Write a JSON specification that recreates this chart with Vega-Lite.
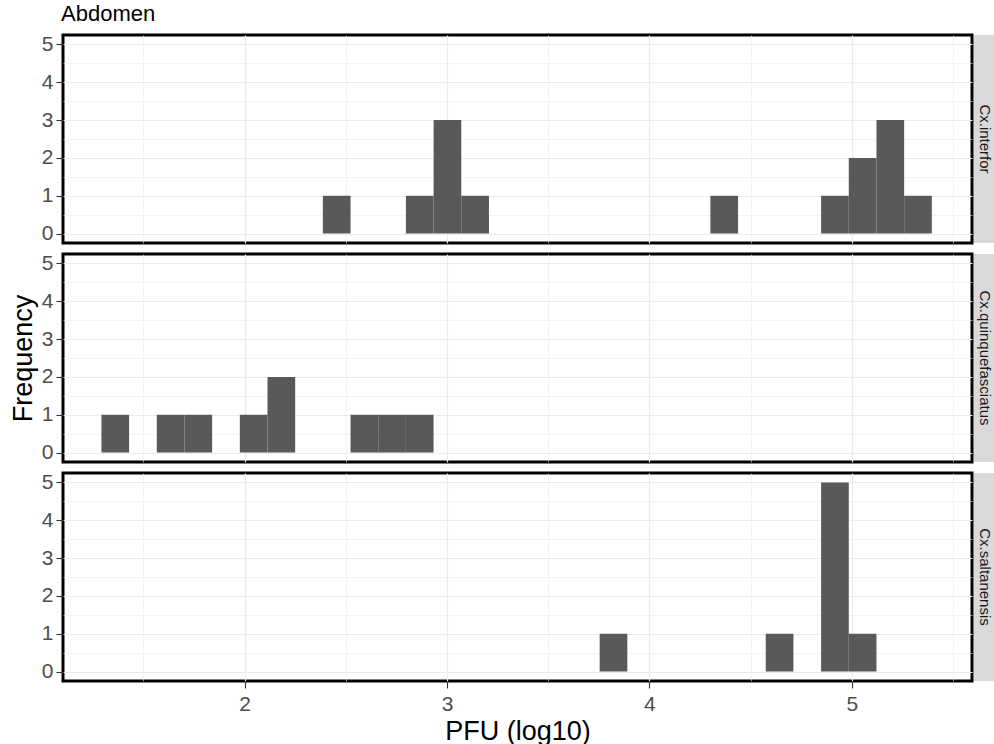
{
  "$schema": "https://vega.github.io/schema/vega-lite/v6.json",
  "padding": {"left": 7, "top": 2, "right": 0, "bottom": 0},
  "background": "white",
  "title": {"text": "Abdomen", "anchor": "start", "frame": "group", "fontSize": 22, "fontWeight": "normal", "color": "#000000", "font": "Liberation Sans", "offset": 6, "dx": -2},
  "datasets": {
    "bins": [
      {"species": "Cx.interfor", "bin_start": 2.3866, "bin_end": 2.5234, "count": 1},
      {"species": "Cx.interfor", "bin_start": 2.7969, "bin_end": 2.9337, "count": 1},
      {"species": "Cx.interfor", "bin_start": 2.9337, "bin_end": 3.0705, "count": 3},
      {"species": "Cx.interfor", "bin_start": 3.0705, "bin_end": 3.2073, "count": 1},
      {"species": "Cx.interfor", "bin_start": 4.3015, "bin_end": 4.4383, "count": 1},
      {"species": "Cx.interfor", "bin_start": 4.8486, "bin_end": 4.9854, "count": 1},
      {"species": "Cx.interfor", "bin_start": 4.9854, "bin_end": 5.1222, "count": 2},
      {"species": "Cx.interfor", "bin_start": 5.1222, "bin_end": 5.2590, "count": 3},
      {"species": "Cx.interfor", "bin_start": 5.2590, "bin_end": 5.3958, "count": 1},
      {"species": "Cx.quinquefasciatus", "bin_start": 1.2924, "bin_end": 1.4292, "count": 1},
      {"species": "Cx.quinquefasciatus", "bin_start": 1.5659, "bin_end": 1.7027, "count": 1},
      {"species": "Cx.quinquefasciatus", "bin_start": 1.7027, "bin_end": 1.8395, "count": 1},
      {"species": "Cx.quinquefasciatus", "bin_start": 1.9763, "bin_end": 2.1130, "count": 1},
      {"species": "Cx.quinquefasciatus", "bin_start": 2.1130, "bin_end": 2.2498, "count": 2},
      {"species": "Cx.quinquefasciatus", "bin_start": 2.5234, "bin_end": 2.6602, "count": 1},
      {"species": "Cx.quinquefasciatus", "bin_start": 2.6602, "bin_end": 2.7969, "count": 1},
      {"species": "Cx.quinquefasciatus", "bin_start": 2.7969, "bin_end": 2.9337, "count": 1},
      {"species": "Cx.saltanensis", "bin_start": 3.7544, "bin_end": 3.8912, "count": 1},
      {"species": "Cx.saltanensis", "bin_start": 4.5751, "bin_end": 4.7119, "count": 1},
      {"species": "Cx.saltanensis", "bin_start": 4.8486, "bin_end": 4.9854, "count": 5},
      {"species": "Cx.saltanensis", "bin_start": 4.9854, "bin_end": 5.1222, "count": 1}
    ],
    "strips": [
      {"species": "Cx.interfor"},
      {"species": "Cx.quinquefasciatus"},
      {"species": "Cx.saltanensis"}
    ]
  },
  "columns": 2,
  "align": "each",
  "bounds": "flush",
  "spacing": {"row": 11, "column": 2},
  "concat": [
    {
      "width": 909, "height": 208,
      "data": {"name": "bins"},
      "transform": [{"filter": "datum.species === 'Cx.interfor'"}],
      "view": {"stroke": "#000000", "strokeWidth": 3, "fill": "white"},
      "mark": {"type": "bar", "fill": "#595959", "stroke": null},
      "encoding": {
        "x": {"field": "bin_start", "type": "quantitative", "scale": {"domain": [1.1025, 5.5943], "nice": false, "zero": false},
              "axis": {"values": [1.5, 2, 2.5, 3, 3.5, 4, 4.5, 5, 5.5], "labels": false, "ticks": false, "title": null, "domain": false,
                       "gridWidth": {"condition": {"test": "datum.value % 1 === 0", "value": 1.2}, "value": 0.6}}},
        "x2": {"field": "bin_end"},
        "y": {"field": "count", "type": "quantitative", "scale": {"domain": [-0.25, 5.25], "nice": false, "zero": false},
              "axis": {"values": [0, 0.5, 1, 1.5, 2, 2.5, 3, 3.5, 4, 4.5, 5], "title": null,
                       "labelExpr": "datum.value % 1 === 0 ? format(datum.value, 'd') : ''",
                       "tickOpacity": {"condition": {"test": "datum.value % 1 === 0", "value": 1}, "value": 0},
                       "gridWidth": {"condition": {"test": "datum.value % 1 === 0", "value": 1.2}, "value": 0.6}}},
        "y2": {"datum": 0}
      }
    },
    {
      "width": 22, "height": 208,
      "data": {"name": "strips"},
      "transform": [{"filter": "datum.species === 'Cx.interfor'"}],
      "view": {"stroke": null, "fill": "#D9D9D9"},
      "mark": {"type": "text", "angle": 90, "fontSize": 15, "font": "Liberation Sans", "color": "#1A1A1A", "align": "center", "baseline": "middle"},
      "encoding": {"text": {"field": "species", "type": "nominal"}}
    },
    {
      "width": 909, "height": 208,
      "data": {"name": "bins"},
      "transform": [{"filter": "datum.species === 'Cx.quinquefasciatus'"}],
      "view": {"stroke": "#000000", "strokeWidth": 3, "fill": "white"},
      "mark": {"type": "bar", "fill": "#595959", "stroke": null},
      "encoding": {
        "x": {"field": "bin_start", "type": "quantitative", "scale": {"domain": [1.1025, 5.5943], "nice": false, "zero": false},
              "axis": {"values": [1.5, 2, 2.5, 3, 3.5, 4, 4.5, 5, 5.5], "labels": false, "ticks": false, "title": null, "domain": false,
                       "gridWidth": {"condition": {"test": "datum.value % 1 === 0", "value": 1.2}, "value": 0.6}}},
        "x2": {"field": "bin_end"},
        "y": {"field": "count", "type": "quantitative", "scale": {"domain": [-0.25, 5.25], "nice": false, "zero": false},
              "axis": {"values": [0, 0.5, 1, 1.5, 2, 2.5, 3, 3.5, 4, 4.5, 5], "title": "Frequency",
                       "labelExpr": "datum.value % 1 === 0 ? format(datum.value, 'd') : ''",
                       "tickOpacity": {"condition": {"test": "datum.value % 1 === 0", "value": 1}, "value": 0},
                       "gridWidth": {"condition": {"test": "datum.value % 1 === 0", "value": 1.2}, "value": 0.6}}},
        "y2": {"datum": 0}
      }
    },
    {
      "width": 22, "height": 208,
      "data": {"name": "strips"},
      "transform": [{"filter": "datum.species === 'Cx.quinquefasciatus'"}],
      "view": {"stroke": null, "fill": "#D9D9D9"},
      "mark": {"type": "text", "angle": 90, "fontSize": 15, "font": "Liberation Sans", "color": "#1A1A1A", "align": "center", "baseline": "middle"},
      "encoding": {"text": {"field": "species", "type": "nominal"}}
    },
    {
      "width": 909, "height": 208,
      "data": {"name": "bins"},
      "transform": [{"filter": "datum.species === 'Cx.saltanensis'"}],
      "view": {"stroke": "#000000", "strokeWidth": 3, "fill": "white"},
      "mark": {"type": "bar", "fill": "#595959", "stroke": null},
      "encoding": {
        "x": {"field": "bin_start", "type": "quantitative", "scale": {"domain": [1.1025, 5.5943], "nice": false, "zero": false},
              "axis": {"values": [1.5, 2, 2.5, 3, 3.5, 4, 4.5, 5, 5.5], "title": "PFU (log10)", "domain": false,
                       "labelExpr": "datum.value % 1 === 0 ? format(datum.value, 'd') : ''",
                       "labelPadding": 5, "titlePadding": 4,
                       "tickOpacity": {"condition": {"test": "datum.value % 1 === 0", "value": 1}, "value": 0},
                       "gridWidth": {"condition": {"test": "datum.value % 1 === 0", "value": 1.2}, "value": 0.6}}},
        "x2": {"field": "bin_end"},
        "y": {"field": "count", "type": "quantitative", "scale": {"domain": [-0.25, 5.25], "nice": false, "zero": false},
              "axis": {"values": [0, 0.5, 1, 1.5, 2, 2.5, 3, 3.5, 4, 4.5, 5], "title": null,
                       "labelExpr": "datum.value % 1 === 0 ? format(datum.value, 'd') : ''",
                       "tickOpacity": {"condition": {"test": "datum.value % 1 === 0", "value": 1}, "value": 0},
                       "gridWidth": {"condition": {"test": "datum.value % 1 === 0", "value": 1.2}, "value": 0.6}}},
        "y2": {"datum": 0}
      }
    },
    {
      "width": 22, "height": 208,
      "data": {"name": "strips"},
      "transform": [{"filter": "datum.species === 'Cx.saltanensis'"}],
      "view": {"stroke": null, "fill": "#D9D9D9"},
      "mark": {"type": "text", "angle": 90, "fontSize": 15, "font": "Liberation Sans", "color": "#1A1A1A", "align": "center", "baseline": "middle"},
      "encoding": {"text": {"field": "species", "type": "nominal"}}
    }
  ],
  "config": {
    "font": "Liberation Sans",
    "axis": {
      "gridColor": "#EBEBEB",
      "domain": false,
      "labelFont": "Liberation Sans",
      "labelFontSize": 21,
      "labelColor": "#4D4D4D",
      "labelPadding": 3,
      "tickColor": "#333333",
      "tickSize": 7,
      "tickWidth": 1.1,
      "titleFont": "Liberation Sans",
      "titleFontSize": 27,
      "titleFontWeight": "normal",
      "titleColor": "#000000",
      "titlePadding": 4
    }
  }
}
